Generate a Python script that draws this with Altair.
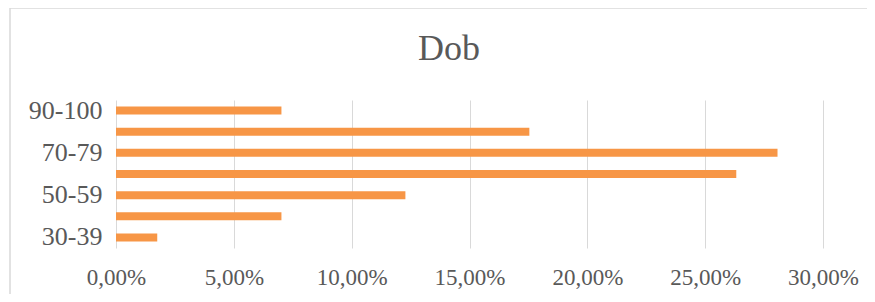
import altair as alt
import pandas as pd

categories = ["30-39", "40-49", "50-59", "60-69", "70-79", "80-89", "90-100"]
shares = [0.0175, 0.0702, 0.1228, 0.2632, 0.2807, 0.1754, 0.0702]
shown_labels = ["30-39", "50-59", "70-79", "90-100"]
x_ticks = [0, 0.05, 0.10, 0.15, 0.20, 0.25, 0.30]
title_text = "Dob"

df = pd.DataFrame({"cat": categories, "share": shares})

FONT = "Liberation Serif"
GREY = "#595959"
GRID = "#d9d9d9"

bars = alt.Chart(df).mark_bar(color="#F79646").encode(
    x=alt.X(
        "share:Q",
        scale=alt.Scale(domain=[0, 0.30], nice=False),
        axis=alt.Axis(
            values=x_ticks,
            labelExpr="replace(format(datum.value, '.2%'), '.', ',')",
            title=None,
            grid=True,
            gridColor=GRID,
            gridWidth=1,
            domain=False,
            ticks=False,
            labelFlush=False,
            labelOverlap=False,
            labelFont=FONT,
            labelFontSize=23,
            labelColor=GREY,
            labelPadding=18,
        ),
    ),
    y=alt.Y(
        "cat:N",
        sort=list(reversed(categories)),
        scale=alt.Scale(paddingInner=0.62, paddingOuter=0.31),
        axis=alt.Axis(
            values=shown_labels,
            title=None,
            domain=False,
            ticks=False,
            grid=False,
            labelFont=FONT,
            labelFontSize=26,
            labelColor=GREY,
            labelPadding=14,
        ),
    ),
)

frame = pd.DataFrame({"t": [title_text]})
left_border = alt.Chart(frame).mark_rule(color=GRID, strokeWidth=1.5).encode(
    x=alt.value(-106), y=alt.value(-92), y2=alt.value(210)
)
top_border = alt.Chart(frame).mark_rule(color=GRID, strokeWidth=1.5).encode(
    x=alt.value(-106), x2=alt.value(760), y=alt.value(-92)
)
title = alt.Chart(frame).mark_text(
    font=FONT, fontSize=36, color=GREY, align="center", baseline="alphabetic"
).encode(x=alt.value(333), y=alt.value(-40), text="t:N")

chart = (
    alt.layer(bars, left_border, top_border, title)
    .properties(
        width=707,
        height=148,
        autosize=alt.AutoSizeParams(type="none"),
        padding={"left": 108, "top": 92, "right": 44, "bottom": 46},
        view=alt.ViewBackground(strokeWidth=0, strokeOpacity=0),
    )
    .configure_view(strokeWidth=0, strokeOpacity=0)
    .configure(background="white")
)

chart.save("out.html", embed_options={"renderer": "svg", "actions": False})
